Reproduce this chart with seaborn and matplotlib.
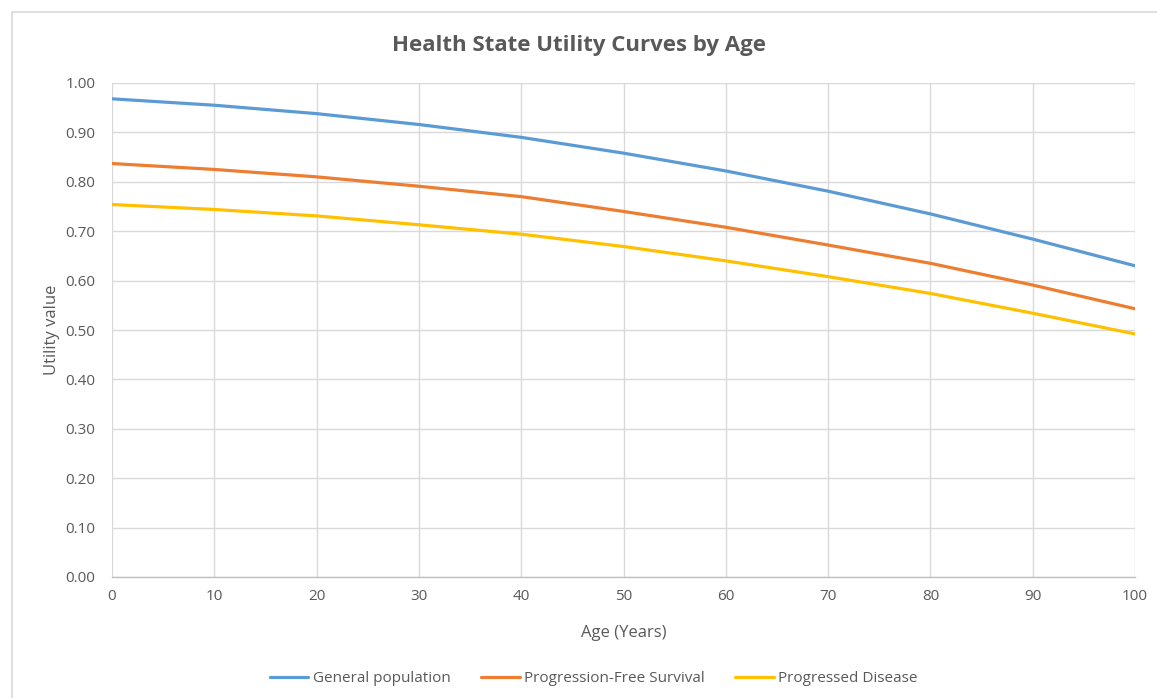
import matplotlib
matplotlib.use("Agg")
import matplotlib.pyplot as plt
import seaborn as sns
import pandas as pd
from matplotlib.patches import Rectangle

ages = [0, 10, 20, 30, 40, 50, 60, 70, 80, 90, 100]
general_population = [0.968, 0.955, 0.938, 0.916, 0.890, 0.858, 0.822, 0.781, 0.735, 0.684, 0.630]
progression_free = [0.837, 0.825, 0.810, 0.791, 0.770, 0.740, 0.708, 0.672, 0.635, 0.591, 0.543]
progressed_disease = [0.754, 0.744, 0.731, 0.713, 0.694, 0.669, 0.640, 0.608, 0.574, 0.534, 0.492]
series_names = ["General population", "Progression-Free Survival", "Progressed Disease"]
colors = ["#5B9BD5", "#ED7D31", "#FFC000"]
yticks = [0.0, 0.1, 0.2, 0.3, 0.4, 0.5, 0.6, 0.7, 0.8, 0.9, 1.0]
xticks = [0, 10, 20, 30, 40, 50, 60, 70, 80, 90, 100]

rows = []
for name, vals in zip(series_names, [general_population, progression_free, progressed_disease]):
    for a, v in zip(ages, vals):
        rows.append({"Age": a, "Utility": v, "Series": name})
df = pd.DataFrame(rows)

sns.set_theme(style="white")
plt.rcParams["font.family"] = ["Open Sans", "DejaVu Sans"]

fig = plt.figure(figsize=(11.57, 6.98), dpi=100)
ax = fig.add_axes([112/1157, 1-577/698, (1135-112)/1157, (577-83)/698])

fig.patches.append(Rectangle((12/1157, -0.01), 1.2, 1 - 12/698 + 0.01, transform=fig.transFigure,
                             fill=False, edgecolor="#d9d9d9", linewidth=1.2, zorder=0))

sns.lineplot(data=df, x="Age", y="Utility", hue="Series", hue_order=series_names,
             palette=colors, linewidth=2.3, ax=ax, legend=False, zorder=3)

ax.set_xlim(0, 100)
ax.set_ylim(0, 1.0)
ax.set_xticks(xticks)
ax.set_yticks(yticks)
ax.set_yticklabels([f"{t:.2f}" for t in yticks])
ax.grid(True, color="#d9d9d9", linewidth=1.0)
ax.set_axisbelow(True)
for s in ["top", "right", "left"]:
    ax.spines[s].set_visible(False)
ax.spines["bottom"].set_color("#bfbfbf")
ax.spines["bottom"].set_linewidth(1.0)
ax.tick_params(axis="x", length=0, labelsize=11, colors="#595959", pad=9)
ax.tick_params(axis="y", length=0, labelsize=11, colors="#595959", pad=12)

ax.set_xlabel("Age (Years)", fontsize=12, color="#595959", labelpad=15)
ax.set_ylabel("Utility value", fontsize=12, color="#595959", labelpad=4)

fig.text(0.5, 1 - 45/698, "Health State Utility Curves by Age", ha="center", va="center",
         fontsize=16, fontweight="bold", color="#595959")

handles = [plt.Line2D([0], [0], color=c, linewidth=2.3) for c in colors]
fig.legend(handles, series_names, loc="center", bbox_to_anchor=(594/1157, 1 - 679/698),
           ncol=3, frameon=False, fontsize=11, labelcolor="#595959",
           handlelength=2.5, columnspacing=2.0, handletextpad=0.3)

fig.savefig("out.png", dpi=100, facecolor="white")
